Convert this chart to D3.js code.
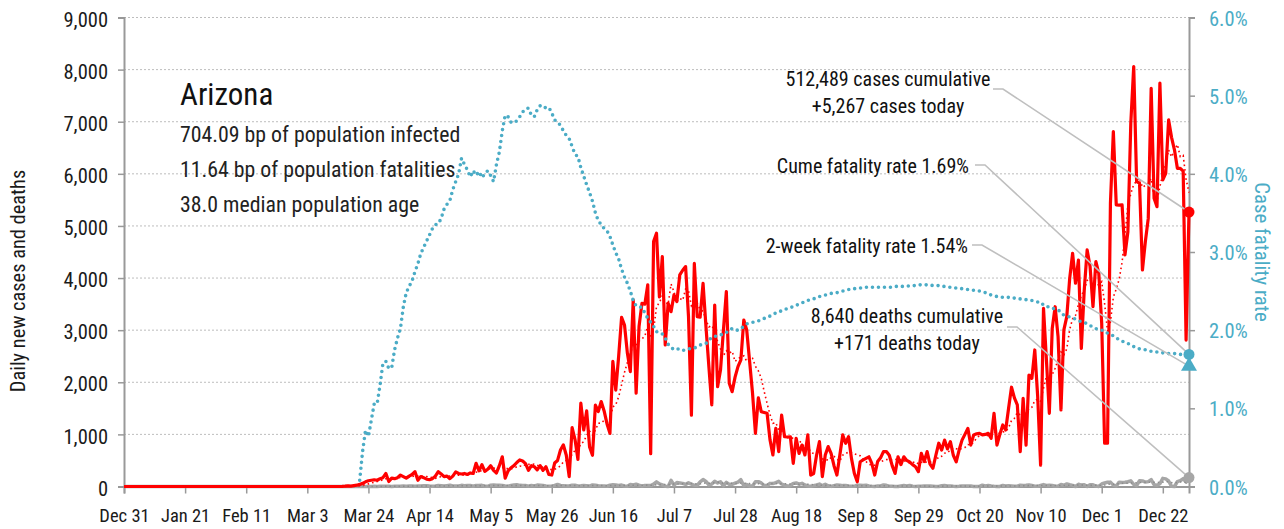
<!DOCTYPE html>
<html>
<head>
<meta charset="utf-8">
<script src="https://cdn.jsdelivr.net/npm/d3@7"></script>
<style>
  body { margin: 0; background: #fff; }
  text { font-family: "Roboto Condensed", Roboto, sans-serif; }
</style>
</head>
<body>
<svg id="chart"></svg>
<script>
// chart size
const svgWidth = 1284;
const svgHeight = 529;
const svg = d3.select("#chart")
  .attr("width", svgWidth)
  .attr("height", svgHeight);

// ---- data ----
const xTickLabels = ["Dec 31", "Jan 21", "Feb 11", "Mar 3", "Mar 24", "Apr 14", "May 5", "May 26", "Jun 16",
  "Jul 7", "Jul 28", "Aug 18", "Sep 8", "Sep 29", "Oct 20", "Nov 10", "Dec 1", "Dec 22"];
const caseTicks = [0, 1000, 2000, 3000, 4000, 5000, 6000, 7000, 8000, 9000];
const cfrTicks = [0, 1, 2, 3, 4, 5, 6];

const firstDay = "2019-12-31";
const lastDay = "2020-12-31";

// daily new cases, from Mar 15 2020 (zero before)
const casesStart = "2020-03-15";
const dailyCases = [
  2, 6, 12, 8, 18, 25,
  40, 60, 90, 110, 120, 130, 120, 150, 170, 250,
  95, 160, 150, 170, 220, 190, 160, 200, 230, 285,
  120, 190, 170, 140, 130, 150, 200, 285, 240, 190,
  200, 150, 200, 280, 250, 240, 250, 230, 260, 250,
  445, 300, 420, 290, 330, 400, 310, 260, 400, 570,
  160, 300, 360, 400, 460, 510, 490, 440, 310, 400,
  380, 320, 400, 310, 380, 230, 220, 450, 500, 700,
  800, 600, 190, 1130, 900, 520, 1600, 1085, 1450, 760,
  600, 1560, 1440, 1630, 1450, 1200, 1020, 2400, 1850, 2500,
  3245, 3100, 2555, 2205, 3580, 1790, 3070, 3515, 3500, 3870,
  630, 4700, 4860, 3640, 4410, 2715, 3515, 3355, 3675, 3550,
  4060, 4150, 4220, 3260, 1370, 4280, 3260, 3250, 3900, 3070,
  2300, 1565, 3480, 1915, 2235, 3000, 3740, 1980, 1820, 2100,
  2300, 2430, 3195, 3005, 2400, 1790, 1020, 1700, 1435, 1420,
  1405, 900, 605, 1115, 670, 1370, 955, 950, 955, 445,
  925, 635, 795, 605, 990, 220, 250, 600, 860, 190,
  605, 765, 635, 400, 220, 600, 990, 830, 955, 540,
  250, 90, 475, 510, 540, 570, 445, 220, 480, 550,
  670, 670, 600, 400, 250, 570, 420, 570, 500, 470,
  420, 380, 285, 635, 480, 670, 430, 350, 600, 830,
  700, 890, 720, 860, 600, 475, 700, 890, 1000, 1115,
  795, 990, 1010, 1020, 990, 1000, 1020, 925, 1405, 795,
  1000, 1180, 1085, 1500, 1905, 1700, 1565, 670, 1690, 795,
  2140, 2075, 2620, 1725, 410, 3420, 2430, 1405, 3035, 3450,
  2875, 1470, 3005, 3260, 3995, 4475, 3900, 4345, 2650, 3770,
  4540, 4220, 3450, 4315, 4090, 3130, 830, 830, 5435, 6810,
  5405, 5400, 5405, 4445, 4890, 6970, 8060, 5850, 5820, 4155,
  4700, 5145, 7640, 5530, 5370, 7740, 5885, 6010, 7035, 6700,
  6460, 6105, 6105, 6050, 2810, 5267
];

// daily new deaths, from Mar 15 2020 (zero before)
const dailyDeaths = [
  0, 0, 0, 0, 0, 1, 0, 1, 1, 2,
  1, 3, 2, 4, 3, 5, 4, 2, 5, 6,
  3, 8, 7, 10, 12, 5, 8, 9, 16, 13,
  8, 6, 12, 20, 14, 9, 17, 24, 10, 8,
  9, 22, 14, 20, 18, 4, 21, 17, 22, 11,
  4, 26, 31, 25, 23, 21, 9, 6, 20, 31,
  32, 22, 17, 19, 7, 20, 12, 27, 24, 18,
  9, 6, 10, 20, 40, 20, 15, 10, 10, 25,
  24, 12, 14, 18, 15, 8, 30, 25, 15, 11,
  12, 5, 25, 32, 28, 20, 28, 10, 5, 40,
  30, 44, 25, 8, 21, 20, 18, 44, 88, 50,
  30, 7, 2, 117, 28, 75, 69, 60, 40, 70,
  47, 24, 22, 90, 134, 97, 30, 46, 100, 68,
  89, 12, 81, 39, 43, 65, 86, 130, 15, 40,
  9, 10, 90, 93, 68, 20, 18, 60, 56, 75,
  98, 48, 25, 9, 15, 60, 68, 44, 60, 30,
  12, 3, 17, 30, 47, 16, 43, 15, 2, 17,
  30, 25, 17, 20, 11, 4, 3, 25, 24, 20,
  25, 9, 3, 1, 8, 12, 30, 22, 7, 5,
  1, 0, 11, 19, 12, 20, 5, 1, 3, 3,
  11, 10, 8, 4, 0, 1, 14, 17, 12, 9,
  3, 1, 4, 11, 12, 9, 10, 2, 0, 1,
  25, 12, 21, 9, 3, 2, 2, 21, 11, 15,
  11, 5, 5, 25, 20, 24, 31, 19, 6, 3,
  19, 36, 21, 22, 18, 4, 10, 38, 24, 49,
  33, 21, 0, 42, 27, 33, 0, 35, 33, 8,
  1, 48, 68, 80, 84, 26, 10, 83, 78, 80,
  91, 109, 41, 15, 112, 107, 84, 94, 133, 34,
  25, 53, 156, 146, 105, 4, 0, 95, 113, 150,
  85, 171
];

// cumulative case fatality rate (%), from Mar 21 2020
const cfrStart = "2020-03-21";
const cfrValues = [
  0.08, 0.45, 0.72, 0.64, 0.85, 1.06, 1.06, 1.30, 1.58, 1.60,
  1.51, 1.52, 1.75, 1.90, 2.02, 2.30, 2.48, 2.56, 2.63, 2.75,
  2.85, 2.98, 3.06, 3.14, 3.22, 3.30, 3.35, 3.36, 3.43, 3.55,
  3.61, 3.66, 3.80, 3.90, 4.00, 4.20, 4.12, 4.05, 3.96, 4.04,
  3.98, 4.03, 3.95, 4.00, 4.04, 3.98, 3.90, 4.12, 4.28, 4.55,
  4.75, 4.73, 4.66, 4.65, 4.68, 4.73, 4.79, 4.83, 4.84, 4.75,
  4.73, 4.82, 4.87, 4.84, 4.85, 4.85, 4.78, 4.69, 4.66, 4.62,
  4.55, 4.49, 4.45, 4.35, 4.25, 4.22, 4.08, 3.97, 3.86, 3.76,
  3.65, 3.50, 3.40, 3.35, 3.30, 3.27, 3.20, 3.09, 2.99, 2.91,
  2.78, 2.68, 2.60, 2.50, 2.38, 2.31, 2.30, 2.29, 2.22, 2.15,
  2.10, 2.05, 1.98, 1.97, 1.95, 1.90, 1.82, 1.78, 1.75, 1.76,
  1.76, 1.74, 1.75, 1.76, 1.77, 1.77, 1.79, 1.81, 1.82, 1.83,
  1.87, 1.91, 1.92, 1.93, 1.94, 1.95, 1.97, 2.00, 2.02, 2.00,
  2.00, 2.02, 2.05, 2.08, 2.09, 2.10, 2.11, 2.12, 2.13, 2.15,
  2.17, 2.18, 2.20, 2.22, 2.23, 2.25, 2.26, 2.28, 2.29, 2.30,
  2.32, 2.33, 2.35, 2.36, 2.38, 2.39, 2.40, 2.42, 2.43, 2.44,
  2.45, 2.46, 2.47, 2.48, 2.48, 2.49, 2.50, 2.51, 2.52, 2.52,
  2.53, 2.54, 2.54, 2.54, 2.55, 2.55, 2.55, 2.55, 2.55, 2.55,
  2.55, 2.55, 2.55, 2.55, 2.56, 2.56, 2.56, 2.56, 2.56, 2.57,
  2.57, 2.57, 2.58, 2.58, 2.58, 2.58, 2.58, 2.57, 2.57, 2.57,
  2.56, 2.56, 2.55, 2.55, 2.54, 2.54, 2.54, 2.53, 2.53, 2.52,
  2.52, 2.51, 2.51, 2.50, 2.49, 2.48, 2.46, 2.45, 2.44, 2.43,
  2.43, 2.42, 2.42, 2.42, 2.41, 2.41, 2.40, 2.40, 2.40, 2.39,
  2.39, 2.38, 2.37, 2.36, 2.36, 2.32, 2.30, 2.30, 2.28, 2.27,
  2.26, 2.23, 2.19, 2.18, 2.17, 2.16, 2.14, 2.12, 2.11, 2.10,
  2.08, 2.06, 2.04, 2.02, 2.01, 2.00, 1.99, 1.96, 1.94, 1.93,
  1.90, 1.88, 1.86, 1.84, 1.83, 1.81, 1.79, 1.77, 1.76, 1.75,
  1.75, 1.74, 1.73, 1.72, 1.72, 1.71, 1.71, 1.71, 1.70, 1.70,
  1.70, 1.70, 1.69, 1.69, 1.69, 1.69
];

const twoWeekCfr = 1.54;

// text blocks
const titleText = "Arizona";
const infoLines = ["704.09 bp of population infected", "11.64 bp of population fatalities", "38.0 median population age"];
const caseNote = ["512,489 cases cumulative", "+5,267 cases today"];
const cumeNote = "Cume fatality rate 1.69%";
const twoWeekNote = "2-week fatality rate 1.54%";
const deathNote = ["8,640 deaths cumulative", "+171 deaths today"];

// ---- build daily rows ----
const parse = d3.utcParse("%Y-%m-%d");
const t0 = parse(firstDay);
const t1 = parse(lastDay);
const caseOffset = d3.utcDay.count(t0, parse(casesStart));
const cfrOffset = d3.utcDay.count(t0, parse(cfrStart));
const nDays = d3.utcDay.count(t0, t1) + 1;

const rows = d3.range(nDays).map(i => ({
  date: d3.utcDay.offset(t0, i),
  cases: i < caseOffset ? 0 : dailyCases[i - caseOffset],
  deaths: i < caseOffset ? 0 : dailyDeaths[i - caseOffset]
}));
// trailing 7-day averages
rows.forEach((r, i) => {
  const win = rows.slice(Math.max(0, i - 6), i + 1);
  r.casesAvg = d3.mean(win, d => d.cases);
  r.deathsAvg = d3.mean(win, d => d.deaths);
});
const cfrRows = cfrValues.map((v, i) => ({ date: d3.utcDay.offset(t0, cfrOffset + i), cfr: v }));

// ---- scales ----
const plotLeft = 124, plotRight = 1189, plotTop = 17.5, plotBottom = 486.5;
const x = d3.scaleUtc().domain([t0, t1]).range([plotLeft, plotRight]);
const y = d3.scaleLinear().domain([0, 9000]).range([plotBottom, plotTop]);
const yR = d3.scaleLinear().domain([0, 6]).range([plotBottom, plotTop]);

const axisGray = "#999999";
const teal = "#4bacc6";
const textColor = "#1a1a1a";

// gridlines
svg.append("g")
  .selectAll("line")
  .data(caseTicks.filter(d => d > 0))
  .join("line")
  .attr("x1", plotLeft)
  .attr("x2", plotRight)
  .attr("y1", d => y(d))
  .attr("y2", d => y(d))
  .attr("stroke", "#bdbdbd")
  .attr("stroke-width", 1)
  .attr("stroke-dasharray", "2,2");

// left axis
const leftAxis = svg.append("g")
  .attr("transform", `translate(${plotLeft},0)`)
  .call(d3.axisLeft(y).tickValues(caseTicks).tickFormat(d3.format(",")).tickSize(6).tickPadding(10));
leftAxis.select(".domain").attr("stroke", axisGray).attr("stroke-width", 2);
leftAxis.selectAll(".tick line").attr("stroke", axisGray).attr("stroke-width", 1.5);
leftAxis.selectAll(".tick text")
  .attr("font-size", 20.5)
  .attr("fill", textColor)
  .attr("dy", "0.42em");

// right axis
const rightAxis = svg.append("g")
  .attr("transform", `translate(${plotRight},0)`)
  .call(d3.axisRight(yR).tickValues(cfrTicks).tickFormat(d => d3.format(".1f")(d) + "%").tickSize(6).tickPadding(14));
rightAxis.select(".domain").attr("stroke", axisGray).attr("stroke-width", 2);
rightAxis.selectAll(".tick line").attr("stroke", axisGray).attr("stroke-width", 1.5);
rightAxis.selectAll(".tick text")
  .attr("font-size", 20.5)
  .attr("fill", teal)
  .attr("dy", "0.37em");

// bottom axis
const tickDates = xTickLabels.map((s, i) => d3.utcParse("%b %d %Y")(s + (i === 0 ? " 2019" : " 2020")));
const bottomAxis = svg.append("g")
  .attr("transform", `translate(0,${plotBottom})`)
  .call(d3.axisBottom(x).tickValues(tickDates).tickFormat((d, i) => xTickLabels[i]).tickSize(7).tickPadding(15));
bottomAxis.select(".domain").attr("stroke", axisGray).attr("stroke-width", 2);
bottomAxis.selectAll(".tick line").attr("stroke", axisGray).attr("stroke-width", 1.5);
bottomAxis.selectAll(".tick text")
  .attr("font-size", 18.5)
  .attr("fill", textColor);

// axis titles
svg.append("text")
  .attr("transform", "translate(25,281) rotate(-90)")
  .attr("text-anchor", "middle")
  .attr("font-size", 20.4)
  .attr("fill", textColor)
  .text("Daily new cases and deaths");

svg.append("text")
  .attr("transform", "translate(1255,252) rotate(90)")
  .attr("text-anchor", "middle")
  .attr("font-size", 20.8)
  .attr("fill", teal)
  .text("Case fatality rate");

// ---- series ----
const caseLine = d3.line().x(d => x(d.date)).y(d => y(d.cases));
const caseAvgLine = d3.line().x(d => x(d.date)).y(d => y(d.casesAvg));
const deathLine = d3.line().x(d => x(d.date)).y(d => y(d.deaths));
const deathAvgLine = d3.line().x(d => x(d.date)).y(d => y(d.deathsAvg));
const cfrLine = d3.line().x(d => x(d.date)).y(d => yR(d.cfr));

svg.append("path")
  .datum(rows)
  .attr("d", deathLine)
  .attr("fill", "none")
  .attr("stroke", "#a6a6a6")
  .attr("stroke-width", 3.5)
  .attr("stroke-linejoin", "round");

svg.append("path")
  .datum(rows)
  .attr("d", deathAvgLine)
  .attr("fill", "none")
  .attr("stroke", "#8c8c8c")
  .attr("stroke-width", 1.5)
  .attr("stroke-dasharray", "1.5,3");

svg.append("path")
  .datum(rows)
  .attr("d", caseLine)
  .attr("fill", "none")
  .attr("stroke", "#ff0000")
  .attr("stroke-width", 3.2)
  .attr("stroke-linejoin", "round");

svg.append("path")
  .datum(rows)
  .attr("d", caseAvgLine)
  .attr("fill", "none")
  .attr("stroke", "#ff0000")
  .attr("stroke-width", 1.6)
  .attr("stroke-dasharray", "1.6,3");

svg.append("path")
  .datum(cfrRows)
  .attr("d", cfrLine)
  .attr("fill", "none")
  .attr("stroke", teal)
  .attr("stroke-width", 3.6)
  .attr("stroke-linecap", "round")
  .attr("stroke-dasharray", "0,6");

// ---- leader lines and end markers ----
const last = rows[rows.length - 1];
const lastCfr = cfrRows[cfrRows.length - 1];
const leader = d3.line();
const leaders = [
  { from: [993, 89], to: [x(last.date), y(last.cases)] },
  { from: [975, 165], to: [x(lastCfr.date), yR(lastCfr.cfr)] },
  { from: [972, 245], to: [x(last.date), yR(twoWeekCfr)] },
  { from: [1007, 327], to: [x(last.date), y(last.deaths)] }
];
svg.append("g")
  .selectAll("path")
  .data(leaders)
  .join("path")
  .attr("d", d => leader([d.from, [d.from[0] + 10, d.from[1]], d.to]))
  .attr("fill", "none")
  .attr("stroke", "#bfbfbf")
  .attr("stroke-width", 1.6);

svg.append("circle")
  .attr("cx", x(last.date)).attr("cy", y(last.cases)).attr("r", 5.5)
  .attr("fill", "#ff0000");
svg.append("circle")
  .attr("cx", x(last.date)).attr("cy", y(last.deaths)).attr("r", 5.5)
  .attr("fill", "#a6a6a6");
svg.append("path")
  .attr("d", d3.symbol(d3.symbolTriangle).size(110))
  .attr("transform", `translate(${x(last.date)},${yR(twoWeekCfr)})`)
  .attr("fill", teal);
svg.append("circle")
  .attr("cx", x(lastCfr.date)).attr("cy", yR(lastCfr.cfr)).attr("r", 5.5)
  .attr("fill", teal);

// ---- text ----
svg.append("text")
  .attr("x", 180).attr("y", 105)
  .attr("font-size", 31)
  .attr("fill", "#111")
  .text(titleText);

svg.append("g")
  .selectAll("text")
  .data(infoLines)
  .join("text")
  .attr("x", 180)
  .attr("y", (d, i) => 141.5 + i * 35.3)
  .attr("font-size", 21.8)
  .attr("fill", "#222")
  .text(d => d);

function note(lines, cx, y0, anchor) {
  svg.append("g")
    .selectAll("text")
    .data(lines)
    .join("text")
    .attr("x", cx)
    .attr("y", (d, i) => y0 + i * 26.5)
    .attr("text-anchor", anchor)
    .attr("font-size", 20)
    .attr("fill", "#111")
    .text(d => d);
}
note(caseNote, 888, 86, "middle");
note([cumeNote], 969, 173, "end");
note([twoWeekNote], 968, 253, "end");
note(deathNote, 907, 323, "middle");
</script>
</body>
</html>
